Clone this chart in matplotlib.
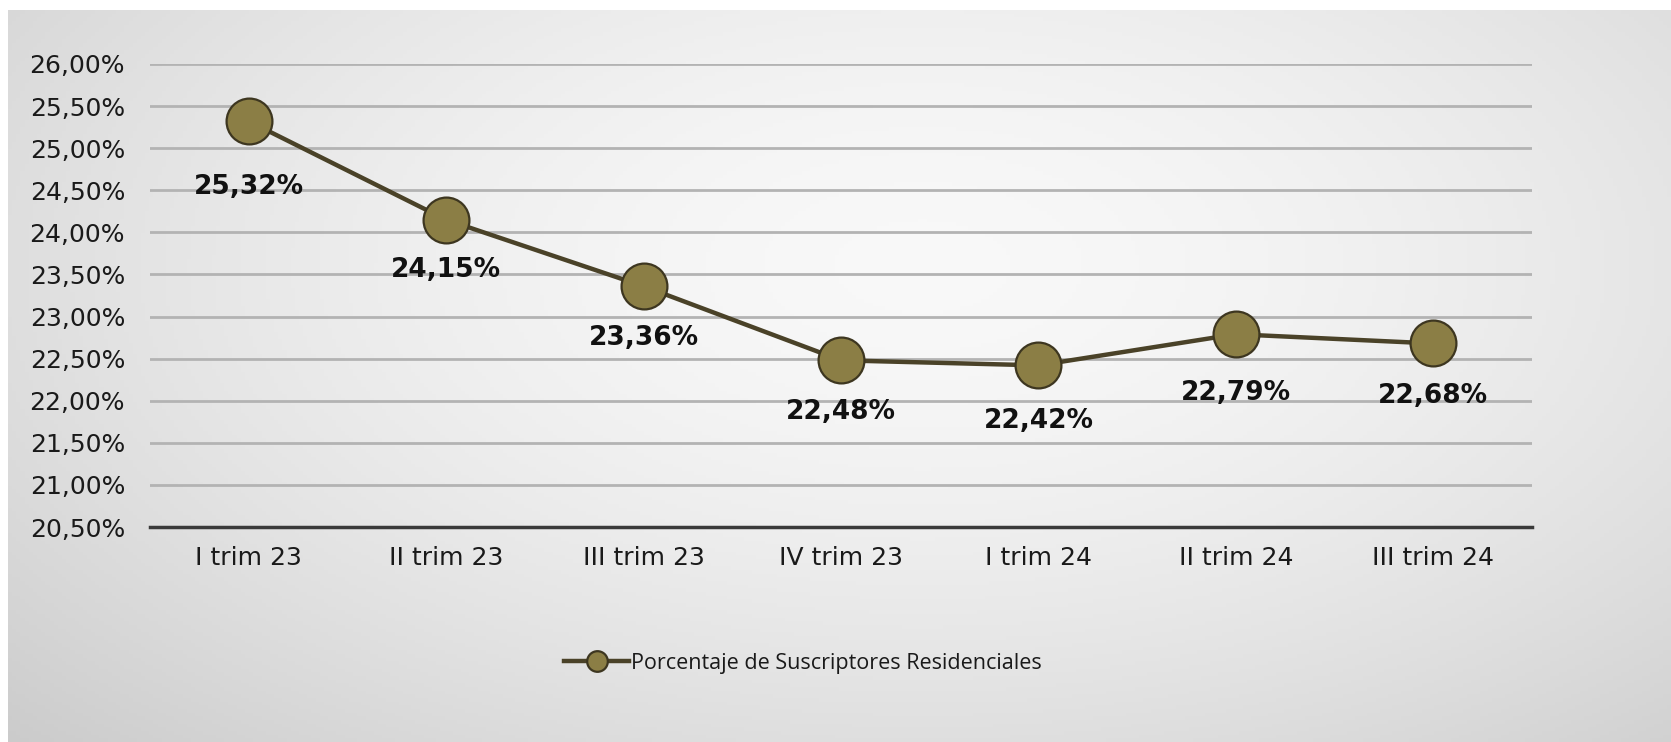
import numpy as np
import matplotlib
matplotlib.use("Agg")
import matplotlib.pyplot as plt

categories = ["I trim 23", "II trim 23", "III trim 23", "IV trim 23",
              "I trim 24", "II trim 24", "III trim 24"]
values = [25.32, 24.15, 23.36, 22.48, 22.42, 22.79, 22.68]
value_labels = ["25,32%", "24,15%", "23,36%", "22,48%", "22,42%", "22,79%", "22,68%"]
yticks = [20.5, 21.0, 21.5, 22.0, 22.5, 23.0, 23.5, 24.0, 24.5, 25.0, 25.5, 26.0]
series_name = "Porcentaje de Suscriptores Residenciales"

W, H = 1671, 742
fig = plt.figure(figsize=(W / 100, H / 100), dpi=100)
fig.patch.set_facecolor("white")

# background gradient panel
bg = fig.add_axes([8 / W, 0, 1 - 8 / W, 1 - 10 / H])
bg.set_axis_off()
yy, xx = np.mgrid[0:1:200j, 0:1:400j]
r = np.sqrt(((xx - 0.55) / 0.75) ** 2 + ((yy - 0.35) / 0.9) ** 2)
g = 0.975 - 0.17 * np.clip(r, 0, 1.2) ** 1.6
bg.imshow(np.dstack([g, g, g]), aspect="auto", extent=[0, 1, 0, 1], zorder=0)
bg.set_xlim(0, 1)
bg.set_ylim(0, 1)

ax = fig.add_axes([150 / W, 1 - 527 / H, (1532 - 150) / W, (527 - 64) / H])
ax.patch.set_alpha(0)
x = np.arange(len(categories))
ax.set_xlim(-0.5, len(categories) - 0.5)
ax.set_ylim(20.5, 26.0)
ax.set_yticks(yticks)
ax.set_yticklabels([f"{v:.2f}%".replace(".", ",") for v in yticks])
ax.set_xticks(x)
ax.set_xticklabels(categories)
ax.grid(axis="y", color="#b3b3b3", linewidth=2.0, zorder=1)
ax.set_axisbelow(True)
for s in ["top", "right", "left"]:
    ax.spines[s].set_visible(False)
ax.spines["bottom"].set_color("#3a3a3a")
ax.spines["bottom"].set_linewidth(2.5)
ax.spines["bottom"].set_zorder(2)
ax.tick_params(length=0, labelsize=18, colors="#1a1a1a")
ax.tick_params(axis="y", pad=18)
ax.tick_params(axis="x", pad=14)

ax.plot(x, values, color="#4a4228", linewidth=3.2, marker="o", markersize=33,
        markerfacecolor="#8b7e45", markeredgecolor="#3d3620", markeredgewidth=1.6,
        zorder=3, clip_on=False, label=series_name)

offsets = [47, 36, 37, 37, 40, 42, 38]
for xi, v, lab, off in zip(x, values, value_labels, offsets):
    ax.annotate(lab, (xi, v), xytext=(0, -off), textcoords="offset points",
                ha="center", va="center", fontsize=19, fontweight="bold",
                color="#111111", zorder=4)

leg = fig.legend(loc="center", bbox_to_anchor=(803 / W, 1 - 663 / H), frameon=False,
                 fontsize=15.5, handlelength=3.0, handletextpad=0.1, markerscale=0.45)
for t in leg.get_texts():
    t.set_fontfamily("Open Sans")
    t.set_color("#1a1a1a")

fig.savefig("out.png", dpi=100)
